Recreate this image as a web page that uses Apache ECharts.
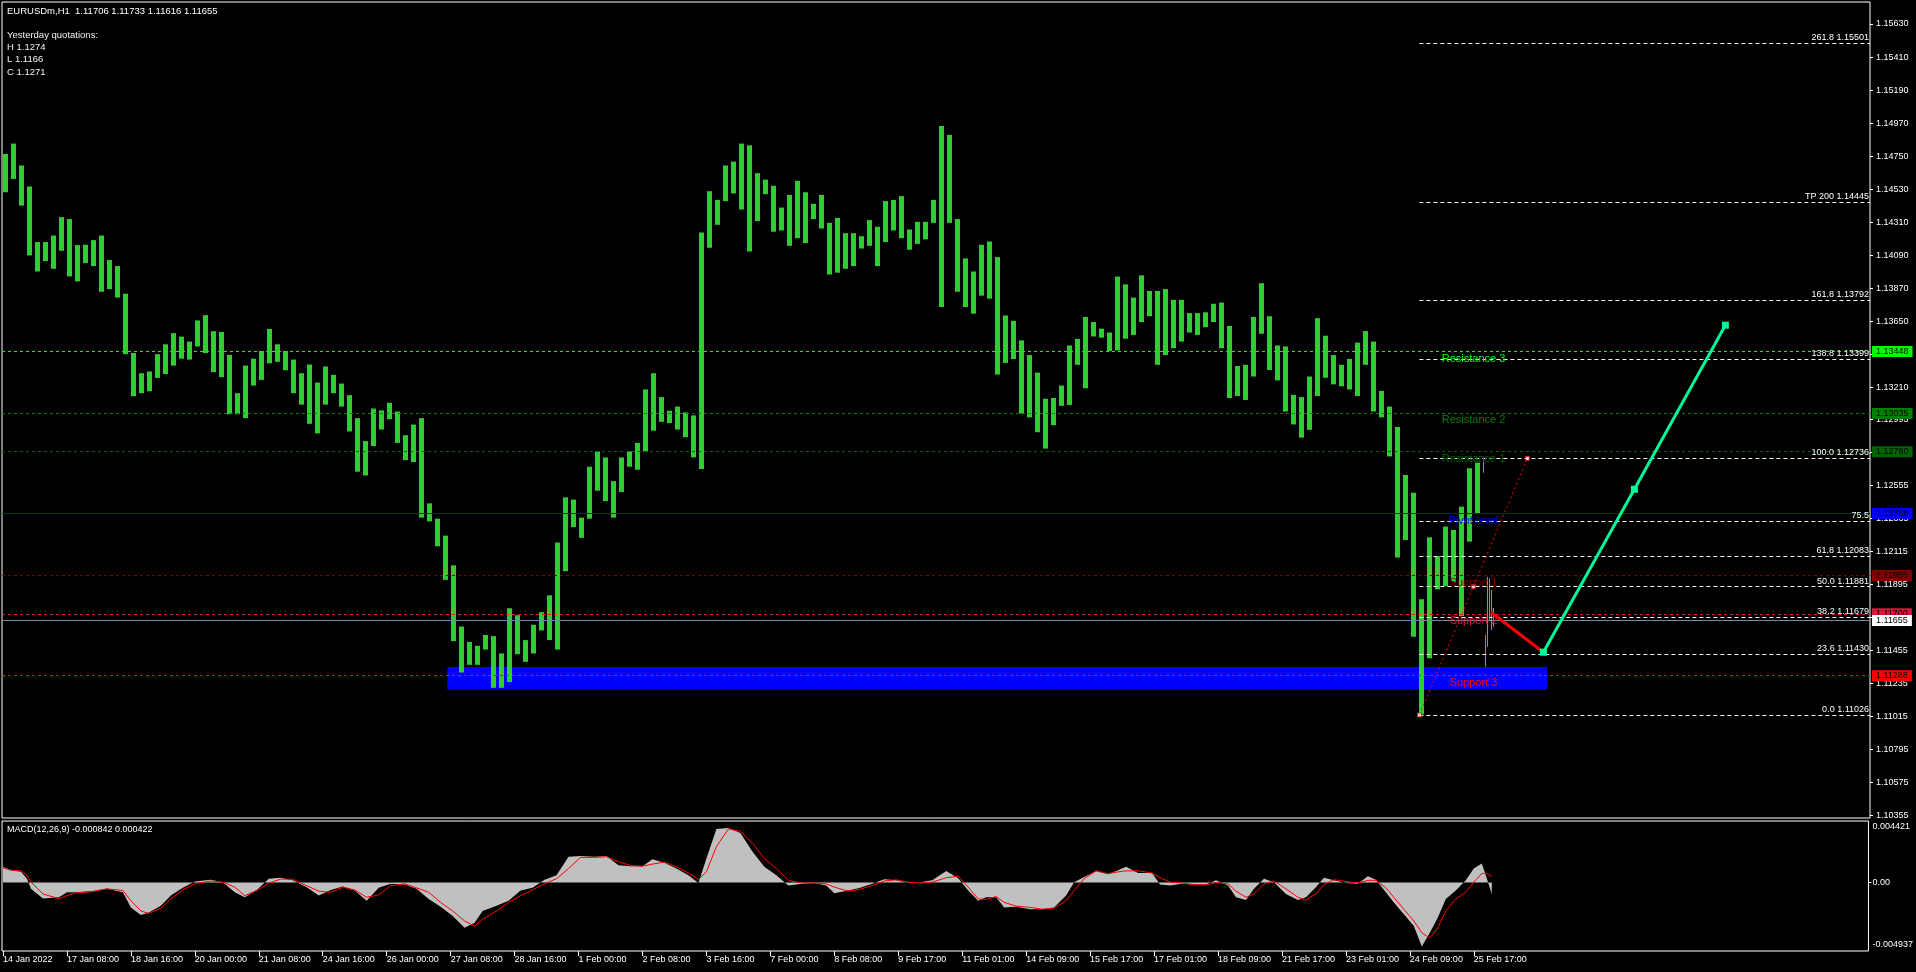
<!DOCTYPE html>
<html><head><meta charset="utf-8">
<script src="https://cdn.jsdelivr.net/npm/echarts@6/dist/echarts.min.js"></script>
<style>html,body{margin:0;padding:0;background:#000;}#c{width:1916px;height:972px;}</style>
</head><body><div id="c"></div>
<script>
// ---------------- DATA ----------------
const headerText = 'EURUSDm,H1  1.11706 1.11733 1.11616 1.11655';
const yesterdayLines = ['Yesterday quotations:', 'H 1.1274', 'L 1.1166', 'C 1.1271'];
const macdText = 'MACD(12,26,9) -0.000842 0.000422';

const timeLabels = ['14 Jan 2022','17 Jan 08:00','18 Jan 16:00','20 Jan 00:00','21 Jan 08:00','24 Jan 16:00','26 Jan 00:00','27 Jan 08:00','28 Jan 16:00','1 Feb 00:00','2 Feb 08:00','3 Feb 16:00','7 Feb 00:00','8 Feb 08:00','9 Feb 17:00','11 Feb 01:00','14 Feb 09:00','15 Feb 17:00','17 Feb 01:00','18 Feb 09:00','21 Feb 17:00','23 Feb 01:00','24 Feb 09:00','25 Feb 17:00'];
const timeLabelHours = [0,32,64,96,128,160,192,224,256,288,320,352,384,416,448,480,512,544,576,608,640,672,704,736];

const priceTicks = [1.10355,1.10575,1.10795,1.11015,1.11235,1.11455,1.11675,1.11895,1.12115,1.12335,1.12555,1.12775,1.12995,1.13210,1.13430,1.13650,1.13870,1.14090,1.14310,1.14530,1.14750,1.14970,1.15190,1.15410,1.15630];
const macdTicks = [0.004421, 0, -0.004937];

// 4-hour groups of H1 bars (group i starts at hour 4*i)
const h4High = [1.14764,1.14833,1.14687,1.14547,1.14177,1.14177,1.14221,1.14343,1.14330,1.14157,1.14159,1.14190,1.14221,1.14057,1.14017,1.13833,1.13438,1.13303,1.13315,1.13430,1.13496,1.13570,1.13547,1.13514,1.13655,1.13690,1.13583,1.13578,1.13425,1.13170,1.13354,1.13400,1.13451,1.13598,1.13496,1.13451,1.13394,1.13303,1.13361,1.13241,1.13348,1.13292,1.13234,1.13157,1.13004,1.12851,1.13068,1.13055,1.13106,1.13048,1.12890,1.12961,1.13004,1.12436,1.12334,1.12221,1.12023,1.11615,1.11513,1.11487,1.11559,1.11551,1.11436,1.11737,1.11691,1.11525,1.11627,1.11711,1.11823,1.12175,1.12476,1.12461,1.12341,1.12680,1.12782,1.12742,1.12584,1.12742,1.12782,1.12839,1.13195,1.13303,1.13144,1.13053,1.13081,1.13042,1.13022,1.14241,1.14516,1.14458,1.14687,1.14713,1.14833,1.14822,1.14636,1.14593,1.14552,1.14407,1.14491,1.14585,1.14509,1.14432,1.14491,1.14305,1.14338,1.14236,1.14236,1.14216,1.14323,1.14279,1.14450,1.14458,1.14483,1.14261,1.14312,1.14312,1.14458,1.14950,1.14891,1.14330,1.14068,1.13981,1.14159,1.14181,1.14077,1.13688,1.13652,1.13522,1.13424,1.13307,1.13133,1.13138,1.13221,1.13488,1.13532,1.13678,1.13644,1.13600,1.13574,1.13947,1.13895,1.13807,1.13955,1.13851,1.13851,1.13864,1.13792,1.13792,1.13704,1.13704,1.13709,1.13766,1.13774,1.13618,1.13351,1.13359,1.13678,1.13903,1.13683,1.13488,1.13481,1.13159,1.13144,1.13281,1.13670,1.13553,1.13424,1.13359,1.13398,1.13507,1.13584,1.13514,1.13185,1.13081,1.12944,1.12625,1.12507,1.11797,1.12210,1.12085,1.12281,1.12259,1.12414,1.12670,1.12707];
const h4Low = [1.14509,1.14598,1.14420,1.14088,1.13981,1.14050,1.13999,1.14119,1.13948,1.13915,1.14037,1.14017,1.13846,1.13864,1.13807,1.13430,1.13150,1.13170,1.13183,1.13272,1.13298,1.13354,1.13400,1.13394,1.13481,1.13438,1.13310,1.13277,1.13030,1.13030,1.13004,1.13221,1.13259,1.13369,1.13379,1.13323,1.13170,1.13094,1.12966,1.12902,1.13094,1.13170,1.13081,1.12915,1.12647,1.12622,1.12818,1.12928,1.12997,1.12839,1.12724,1.12711,1.12341,1.12316,1.12150,1.11926,1.11518,1.11309,1.11360,1.11360,1.11462,1.11207,1.11207,1.11245,1.11431,1.11380,1.11436,1.11589,1.11525,1.11462,1.11984,1.12278,1.12206,1.12334,1.12520,1.12451,1.12341,1.12512,1.12680,1.12660,1.12782,1.12920,1.12979,1.12971,1.12928,1.12877,1.12742,1.12665,1.14139,1.14292,1.14450,1.14501,1.14394,1.14114,1.14317,1.14496,1.14246,1.14254,1.14152,1.14203,1.14170,1.14330,1.14267,1.13961,1.13973,1.13999,1.14017,1.14134,1.14152,1.14017,1.14177,1.14254,1.14203,1.14126,1.14165,1.14195,1.14305,1.13744,1.14305,1.13846,1.13744,1.13700,1.13820,1.13800,1.13294,1.13372,1.13398,1.13035,1.13009,1.12910,1.12801,1.12957,1.13086,1.13092,1.13359,1.13203,1.13548,1.13540,1.13450,1.13455,1.13533,1.13558,1.13644,1.13683,1.13359,1.13424,1.13470,1.13514,1.13574,1.13558,1.13610,1.13644,1.13470,1.13138,1.13151,1.13125,1.13281,1.13566,1.13325,1.13255,1.13048,1.12962,1.12874,1.12926,1.13151,1.13273,1.13229,1.13216,1.13195,1.13151,1.13359,1.13048,1.13009,1.12749,1.12075,1.12192,1.11548,1.11030,1.11404,1.11863,1.11885,1.11914,1.11685,1.12181,1.12370];
// last single H1 bars
const h1Hour = [740,741,742,743,744,745];
const h1High = [1.12745,1.11560,1.11947,1.11937,1.11859,1.11739];
const h1Low  = [1.12640,1.11348,1.11481,1.11659,1.11592,1.11614];

const levelNames  = ['Resistance 3','Resistance 2','Resistance 1','Pivot level','Support 1','Support 2','Support 3'];
const levelPrices = [1.13448,1.13035,1.12780,1.12368,1.11955,1.11700,1.11288];
const levelTextHour = 735.25;
const currentPrice = 1.11655;

const fibLabels = ['261.8 1.15501','TP 200 1.14445','161.8 1.13792','138.8 1.13399','100.0 1.12736','75.5','61.8 1.12083','50.0 1.11881','38.2 1.11679','23.6 1.11430','0.0 1.11026'];
const fibPrices = [1.15501,1.14445,1.13792,1.13399,1.12736,1.12317,1.12083,1.11881,1.11679,1.11430,1.11026];
const fibStartHour = 708.2;
const fibTrendHours = [708.2,735.2,762.2];
const fibTrendPrices = [1.11026,1.11881,1.12736];

const zoneHours = [222.2, 772];
const zonePrices = [1.11346, 1.11194];

const redPathHours = [744, 770.2];
const redPathPrices = [1.11710, 1.11444];
const greenPathHours = [770.2, 815.7, 861.2];
const greenPathPrices = [1.11444, 1.12530, 1.13623];

const macdHours = [0,4,9,12,14,20,28,32,36,44,52,60,64,69,73,79,84,90,96,104,110,116,121,127,133,139,145,152,158,164,170,176,182,188,194,201,207,213,219,225,231,236,240,247,253,259,265,271,277,283,289,296,302,308,314,320,325,331,337,343,348,352,357,363,369,375,381,387,393,400,406,412,416,423,429,435,441,447,453,459,465,472,478,483,488,492,497,501,507,514,520,526,532,536,541,547,553,558,562,568,575,579,584,590,596,602,607,613,617,622,626,631,636,642,648,652,657,661,666,672,678,683,687,692,696,701,706,710,714,718,722,727,732,736,740,742,745];
const macdMain = [0.00112,0.00088,0.00076,0.00027,-0.00046,-0.00115,-0.00107,-0.00071,-0.00071,-0.00063,-0.00046,-0.00071,-0.00180,-0.00234,-0.00217,-0.00168,-0.00095,-0.00039,0.00007,0.00019,0.00002,-0.00071,-0.00107,-0.00054,0.00027,0.00034,0.00015,-0.00034,-0.00095,-0.00054,-0.00029,-0.00058,-0.00132,-0.00039,-0.00010,-0.00015,-0.00046,-0.00119,-0.00175,-0.00241,-0.00327,-0.00290,-0.00205,-0.00168,-0.00132,-0.00058,-0.00039,0.00019,0.00051,0.00185,0.00190,0.00185,0.00190,0.00124,0.00117,0.00117,0.00166,0.00141,0.00100,0.00051,-0.00005,0.00173,0.00385,0.00392,0.00356,0.00222,0.00112,0.00051,-0.00022,-0.00010,-0.00005,-0.00022,-0.00078,-0.00058,-0.00039,-0.00010,0.00022,0.00015,-0.00005,0.00002,0.00015,0.00083,0.00030,-0.00058,-0.00132,-0.00107,-0.00107,-0.00180,-0.00175,-0.00193,-0.00193,-0.00180,-0.00095,0.00002,0.00039,0.00083,0.00058,0.00088,0.00112,0.00068,0.00068,-0.00015,-0.00022,-0.00010,-0.00017,-0.00015,0.00015,-0.00022,-0.00107,-0.00127,-0.00046,0.00027,0.00002,-0.00083,-0.00127,-0.00107,-0.00034,0.00034,0.00015,-0.00005,-0.00010,0.00044,0.00019,-0.00071,-0.00144,-0.00229,-0.00314,-0.00461,-0.00363,-0.00253,-0.00119,-0.00058,0.00015,0.00100,0.00136,0.00051,-0.000842];
const macdSignal = [0.00105,0.00088,0.00083,0.00051,0.00002,-0.00083,-0.00117,-0.00095,-0.00076,-0.00068,-0.00046,-0.00058,-0.00132,-0.00205,-0.00224,-0.00185,-0.00119,-0.00054,-0.00010,0.00010,0.00002,-0.00034,-0.00095,-0.00058,-0.00005,0.00024,0.00022,-0.00024,-0.00063,-0.00071,-0.00034,-0.00054,-0.00107,-0.00090,-0.00024,-0.00010,-0.00039,-0.00071,-0.00144,-0.00205,-0.00278,-0.00314,-0.00266,-0.00205,-0.00144,-0.00095,-0.00054,-0.00010,0.00027,0.00100,0.00180,0.00180,0.00185,0.00149,0.00122,0.00117,0.00132,0.00146,0.00112,0.00068,0.00022,0.00076,0.00258,0.00385,0.00368,0.00283,0.00173,0.00100,0.00015,-0.00005,-0.00005,-0.00010,-0.00034,-0.00063,-0.00049,-0.00022,0.00010,0.00019,0.00002,-0.00005,0.00002,0.00034,0.00045,-0.00034,-0.00119,-0.00122,-0.00102,-0.00144,-0.00171,-0.00180,-0.00193,-0.00185,-0.00132,-0.00058,0.00027,0.00083,0.00063,0.00076,0.00083,0.00083,0.00068,0.00034,0.00002,-0.00005,-0.00015,-0.00017,-0.00002,-0.00010,-0.00063,-0.00107,-0.00083,-0.00010,0.00010,-0.00046,-0.00107,-0.00127,-0.00083,-0.00015,0.00019,0.00007,-0.00005,0.00015,0.00015,-0.00039,-0.00107,-0.00193,-0.00278,-0.00363,-0.00400,-0.00327,-0.00205,-0.00119,-0.00071,0.00002,0.00063,0.00068,0.000422];

// ---------------- STYLES ----------------
const FONT = '"Liberation Sans", Arial, sans-serif';
const levelColors = ['#00ff00','#008000','#006400','#0000ff','#800000','#dc143c','#ff0000'];
const levelTagColors = ['#00ff00','#008000','#006400','#0000ff','#800000','#dc143c','#ff0000'];
const levelDash = [[3,3],[3,3],[3,3],'solid',[3,3],[3,3],[3,3]];
const X_MIN = -0.5, X_MAX = 933.5;
const BAR_COLOR = '#32cd32';

// ---------------- BUILD ----------------
const barData = h4High.map((hi, i) => [i * 4, h4Low[i], hi, 4]);
h1Hour.forEach((h, i) => barData.push([h, h1Low[i], h1High[i], 1]));

const levelMarkLines = levelPrices.map((p, i) => ({
  yAxis: p,
  lineStyle: { color: levelColors[i], type: levelDash[i], width: 1 },
  label: { show: true, position: 'end', distance: 2, formatter: p.toFixed(5),
    backgroundColor: levelTagColors[i], color: '#000', padding: [1, 4, 0, 4],
    fontSize: 9, fontFamily: FONT, lineHeight: 10 }
}));
levelMarkLines.push({
  yAxis: currentPrice,
  lineStyle: { color: '#778899', type: 'solid', width: 1 },
  label: { show: true, position: 'end', distance: 2, formatter: currentPrice.toFixed(5),
    backgroundColor: '#ffffff', color: '#000', padding: [1, 4, 0, 4],
    fontSize: 9, fontFamily: FONT, lineHeight: 10 }
});

const fibMarkLines = fibPrices.map((p, i) => [
  { coord: [fibStartHour, p],
    lineStyle: { color: '#ffffff', type: [4, 3], width: 1 },
    label: { show: true, position: 'insideEndTop', distance: 1, formatter: fibLabels[i],
      color: '#ffffff', fontSize: 9, fontFamily: FONT } },
  { coord: [X_MAX, p] }
]);

const graphics = [
  { type: 'text', x: 7, y: 11, style: { text: headerText, fill: '#ffffff', font: '9.5px ' + FONT, verticalAlign: 'middle' } },
  { type: 'text', x: 7, y: 830, style: { text: macdText, fill: '#ffffff', font: '9px ' + FONT, verticalAlign: 'middle' } }
];
yesterdayLines.forEach((t, i) => graphics.push({
  type: 'text', x: 7, y: 35 + i * 12.3, style: { text: t, fill: '#f2f2f2', font: '9.5px ' + FONT, verticalAlign: 'middle' }
}));

const chart = echarts.init(document.getElementById('c'));
chart.setOption({
  backgroundColor: '#000000',
  animation: false,
  textStyle: { fontFamily: FONT },
  graphic: graphics,
  grid: [
    { left: 2, top: 2, width: 1868, height: 816, show: true, borderColor: '#ffffff', borderWidth: 1, backgroundColor: '#000' },
    { left: 2, top: 821, width: 1868, height: 130, show: true, borderColor: '#ffffff', borderWidth: 1, backgroundColor: '#000' }
  ],
  xAxis: [
    { type: 'value', gridIndex: 0, min: X_MIN, max: X_MAX, show: false, splitLine: { show: false },
      axisLine: { show: false, onZero: false }, axisTick: { show: false }, axisLabel: { show: false } },
    { type: 'value', gridIndex: 1, min: X_MIN, max: X_MAX, position: 'bottom',
      axisLine: { show: false, onZero: false }, splitLine: { show: false },
      axisTick: { show: true, customValues: timeLabelHours, length: 5, lineStyle: { color: '#ffffff' } },
      axisLabel: { show: true, customValues: timeLabelHours, align: 'left', margin: 4, color: '#ffffff', fontSize: 9, fontFamily: FONT,
        formatter: v => timeLabels[timeLabelHours.indexOf(v)] || '' } }
  ],
  yAxis: [
    { type: 'value', gridIndex: 0, position: 'right', min: 1.103395, max: 1.157766,
      axisLine: { show: false, onZero: false }, splitLine: { show: false },
      axisTick: { show: true, customValues: priceTicks, length: 3, lineStyle: { color: '#ffffff' } },
      axisLabel: { show: true, customValues: priceTicks, margin: 6, color: '#ffffff', fontSize: 9, fontFamily: FONT,
        formatter: v => v.toFixed(5) } },
    { type: 'value', gridIndex: 1, position: 'right', min: -0.004937, max: 0.004421,
      axisLine: { show: false, onZero: false }, splitLine: { show: false },
      axisTick: { show: true, customValues: [0], length: 3, lineStyle: { color: '#ffffff' } },
      axisLabel: { show: true, customValues: macdTicks, margin: 4, color: '#ffffff', fontSize: 9, fontFamily: FONT,
        formatter: v => v > 0 ? '{t|' + v.toFixed(6) + '}' : (v < 0 ? '{b|' + v.toFixed(6) + '}' : '0.00'),
        rich: { t: { padding: [12, 0, 0, 0], color: '#fff', fontSize: 9 }, b: { padding: [0, 0, 12, 0], color: '#fff', fontSize: 9 } } } }
  ],
  series: [
    { // blue zone + level lines
      type: 'line', xAxisIndex: 0, yAxisIndex: 0, data: [], z: 1, silent: true,
      markArea: { silent: true, itemStyle: { color: '#0000ff', opacity: 1 },
        data: [[{ coord: [zoneHours[0], zonePrices[0]] }, { coord: [zoneHours[1], zonePrices[1]] }]] },
      markLine: { silent: true, symbol: 'none', precision: 5, data: levelMarkLines }
    },
    { // price bars
      type: 'custom', xAxisIndex: 0, yAxisIndex: 0, z: 3, data: barData, silent: true,
      renderItem(params, api) {
        const h = api.value(0), span = api.value(3);
        const p0 = api.coord([h - 0.5, api.value(2)]);
        const p1 = api.coord([h + span - 0.5, api.value(1)]);
        let x0 = Math.round(p0[0]) + 1, x1 = Math.round(p1[0]) - 2;
        if (x1 - x0 < 1) x1 = x0 + 1;
        return { type: 'rect', shape: { x: x0, y: p0[1], width: x1 - x0, height: Math.max(1, p1[1] - p0[1]) },
          style: { fill: BAR_COLOR } };
      }
    },
    { // fib lines
      type: 'line', xAxisIndex: 0, yAxisIndex: 0, data: [], z: 4, silent: true,
      markLine: { silent: true, symbol: 'none', data: fibMarkLines }
    },
    { // fib trend dotted line
      type: 'line', xAxisIndex: 0, yAxisIndex: 0, z: 5, silent: true,
      data: [[fibTrendHours[0], fibTrendPrices[0]], [fibTrendHours[2], fibTrendPrices[2]]],
      symbol: 'none', lineStyle: { color: '#ff0000', width: 1, type: [2, 3] }
    },
    { // fib anchor markers
      type: 'scatter', xAxisIndex: 0, yAxisIndex: 0, z: 6, silent: true,
      data: fibTrendHours.map((h, i) => [h, fibTrendPrices[i]]),
      symbol: 'rect', symbolSize: 4, itemStyle: { color: '#ffffff', borderColor: '#ff0000', borderWidth: 1 }
    },
    { // level names
      type: 'custom', xAxisIndex: 0, yAxisIndex: 0, z: 7, silent: true,
      data: levelPrices.map((p, i) => [levelTextHour, p, i]),
      renderItem(params, api) {
        const p = api.coord([api.value(0), api.value(1)]);
        const i = api.value(2);
        return { type: 'text', x: p[0], y: p[1] + 7,
          style: { text: levelNames[i], fill: levelColors[i], font: '11px ' + FONT, align: 'center', verticalAlign: 'middle' } };
      }
    },
    { // red forecast segment
      type: 'line', xAxisIndex: 0, yAxisIndex: 0, z: 8, silent: true,
      data: redPathHours.map((h, i) => [h, redPathPrices[i]]),
      symbol: 'none', lineStyle: { color: '#ff0000', width: 3 }
    },
    { // green forecast path
      type: 'line', xAxisIndex: 0, yAxisIndex: 0, z: 9, silent: true,
      data: greenPathHours.map((h, i) => [h, greenPathPrices[i]]),
      symbol: 'rect', symbolSize: 7, showAllSymbol: true,
      itemStyle: { color: '#00fa9a' }, lineStyle: { color: '#00fa9a', width: 3 }
    },
    { // MACD histogram
      type: 'line', xAxisIndex: 1, yAxisIndex: 1, z: 2, silent: true,
      data: macdHours.map((h, i) => [h, macdMain[i]]),
      symbol: 'none', lineStyle: { width: 0, color: '#c0c0c0' },
      areaStyle: { color: '#c0c0c0', opacity: 1 }
    },
    { // MACD signal
      type: 'line', xAxisIndex: 1, yAxisIndex: 1, z: 3, silent: true,
      data: macdHours.map((h, i) => [h, macdSignal[i]]),
      symbol: 'none', lineStyle: { width: 1, color: '#ff0000' }
    }
  ]
});
</script>
</body></html>
